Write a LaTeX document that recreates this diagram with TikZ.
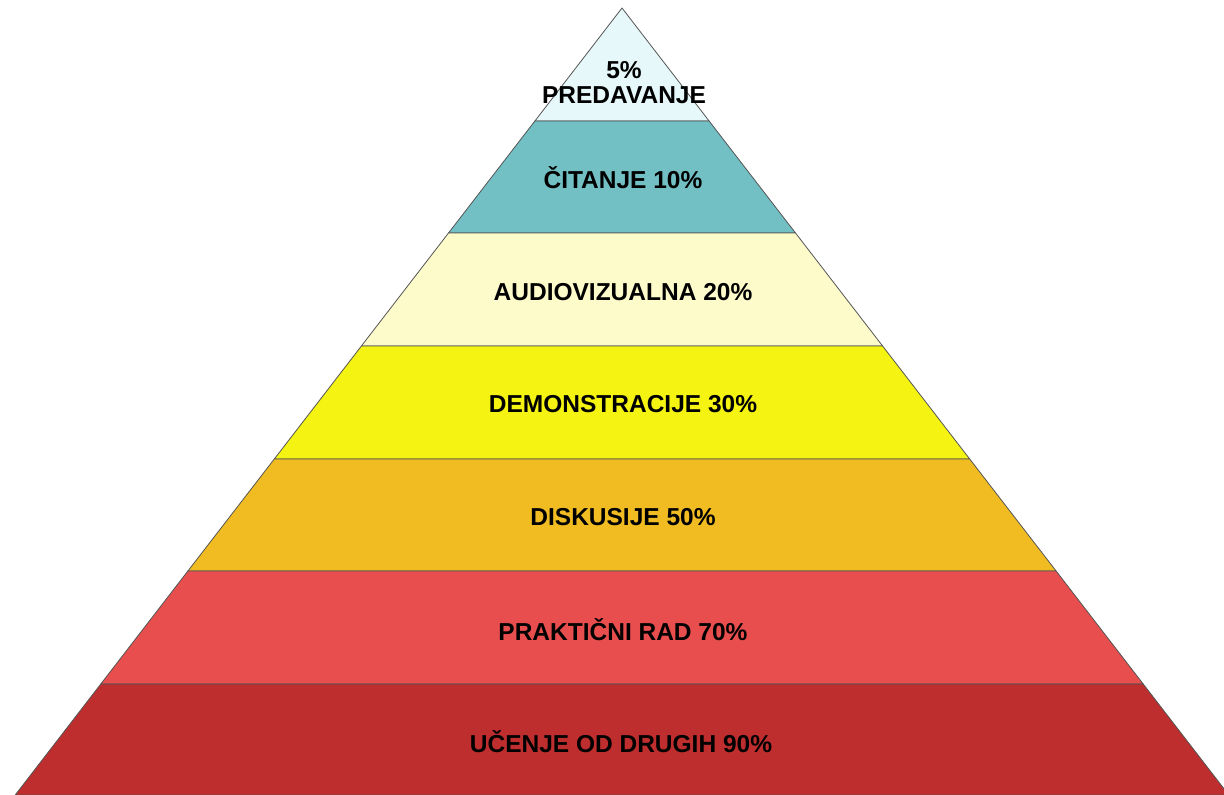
\documentclass[tikz,border=0pt]{standalone}
\usepackage{fontspec}
\setmainfont{Liberation Sans}
\definecolor{c1}{HTML}{E6F8FA}
\definecolor{c2}{HTML}{72BFC4}
\definecolor{c3}{HTML}{FEFBCB}
\definecolor{c4}{HTML}{F5F312}
\definecolor{c5}{HTML}{F0BC22}
\definecolor{c6}{HTML}{E84E4E}
\definecolor{c7}{HTML}{BE2E2E}
\definecolor{edge}{HTML}{555555}
\begin{document}
\begin{tikzpicture}[x=1pt,y=-1pt,
  layer/.style={draw=edge,line width=0.8pt,line join=round},
  lbl/.style={font=\bfseries\fontsize{24.5}{25}\selectfont,text=black,align=center,inner sep=0pt}]
\useasboundingbox (0,0) rectangle (1224,795);
\clip (0,0) rectangle (1224,795);
\fill[white] (0,0) rectangle (1224,795);
\filldraw[layer,fill=c1] (622,8) -- (709.1,121) -- (534.9,121) -- cycle;
\filldraw[layer,fill=c2] (534.9,121) -- (709.1,121) -- (795.5,233) -- (448.5,233) -- cycle;
\filldraw[layer,fill=c3] (448.5,233) -- (795.5,233) -- (882.6,346) -- (361.4,346) -- cycle;
\filldraw[layer,fill=c4] (361.4,346) -- (882.6,346) -- (969.7,459) -- (274.3,459) -- cycle;
\filldraw[layer,fill=c5] (274.3,459) -- (969.7,459) -- (1056.1,571) -- (187.9,571) -- cycle;
\filldraw[layer,fill=c6] (187.9,571) -- (1056.1,571) -- (1143.2,684) -- (100.8,684) -- cycle;
\filldraw[layer,fill=c7] (100.8,684) -- (1143.2,684) -- (1228.8,795) -- (15.2,795) -- cycle;
\node[lbl] (t1) at (624,83) {5\%\\PREDAVANJE};
\node[lbl] (t2) at (623,178) {ČITANJE 10\%};
\node[lbl] (t3) at (623,292) {AUDIOVIZUALNA 20\%};
\node[lbl] (t4) at (623,404) {DEMONSTRACIJE 30\%};
\node[lbl] (t5) at (623,517) {DISKUSIJE 50\%};
\node[lbl] (t6) at (623,630) {PRAKTIČNI RAD 70\%};
\node[lbl] (t7) at (621,742) {UČENJE OD DRUGIH 90\%};
\end{tikzpicture}
\end{document}
